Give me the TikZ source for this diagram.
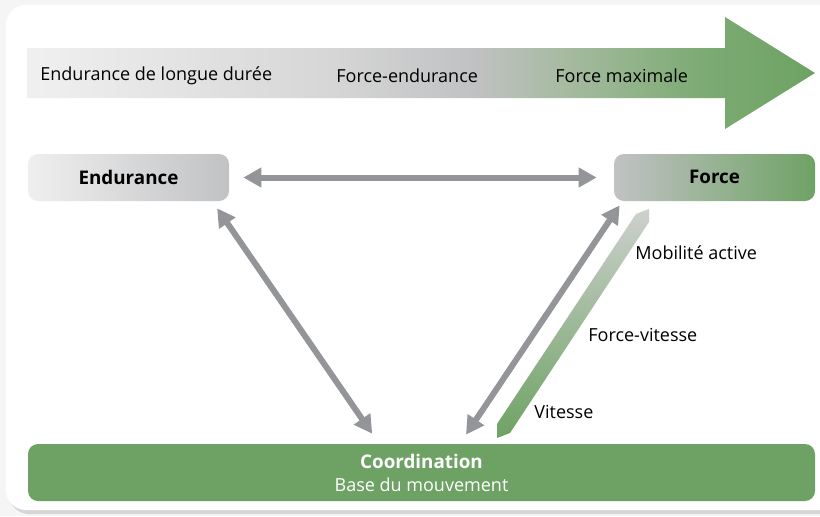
\documentclass[tikz,border=0pt]{standalone}
\usepackage{fontspec}
\setmainfont{Open Sans}
\usetikzlibrary{arrows.meta,calc}

\definecolor{trgreen}{HTML}{6EA264}
\definecolor{trgray}{HTML}{939598}
\definecolor{boxgray}{HTML}{C1C2C4}
\definecolor{lightgray}{HTML}{EFEFEF}
\definecolor{bandgray}{HTML}{CDD0CD}
\definecolor{midgreen}{HTML}{A8BBA2}

% shading of the long arrow on top: light gray -> gray -> green
\pgfdeclarehorizontalshading{topbar}{100bp}{%
  color(0bp)=(lightgray); color(25.8bp)=(lightgray);
  color(44.2bp)=(black!16); color(53.1bp)=(boxgray);
  color(58.8bp)=(midgreen); color(67.7bp)=(trgreen!90!white);
  color(75bp)=(trgreen); color(100bp)=(trgreen)}

\begin{document}
\begin{tikzpicture}[
  x=0.5pt, y=-0.5pt,
  font=\fontsize{9}{10}\selectfont,
  quality/.style={rounded corners=5pt,minimum width=100.5pt,minimum height=23.5pt,
                  inner sep=0pt,text depth=0.5pt,font=\fontsize{9.4}{10}\selectfont\bfseries},
  endubox/.style={quality,left color=lightgray,right color=boxgray},
  forcebox/.style={quality,left color=boxgray,right color=trgreen},
  basebox/.style={rounded corners=5pt,minimum width=393.5pt,minimum height=28.5pt,
                  fill=trgreen,text=white,align=center,inner sep=0pt,
                  font=\fontsize{9}{11.5}\selectfont},
  dblarr/.style={{Triangle[length=9pt,width=9.5pt]}-{Triangle[length=9pt,width=9.5pt]},
                 line width=3pt,trgray},
  tag/.style={anchor=west,inner sep=0pt},
]
\useasboundingbox (0,0) rectangle (820,516);
\clip (0,0) rectangle (820,516);

%% ---- Frame -----------------------------------------------------------------
\fill[black!4] (0,0) rectangle (820,516);
\fill[black!16,rounded corners=10pt] (9,9) rectangle (850,514);
\fill[white,rounded corners=10pt] (6,5) rectangle (850,510);

%% ---- Top arrow -------------------------------------------------------------
\shade[shading=topbar] (27,48) -- (725,48) -- (725,17) -- (815,73)
  -- (725,129) -- (725,98) -- (27,98) -- cycle;
\node[tag] (longue) at (40,76) {Endurance de longue durée};
\node[tag] (fendu) at (336,76) {Force-endurance};
\node[tag] (fmax) at (555,76) {Force maximale};

%% ---- Boxes -----------------------------------------------------------------
\node[endubox] (endu) at (128.5,177.5) {Endurance};
\node[forcebox] (force) at (714.5,177.5) {Force};
\node[basebox] (coord) at (421.5,472.5)
  {\textbf{\fontsize{9.4}{11.5}\selectfont Coordination}\\Base du mouvement};

%% ---- Gray arrows -----------------------------------------------------------
\draw[dblarr,shorten <=7pt,shorten >=8.5pt] (endu.east) -- (force.west);
\draw[dblarr,shorten <=4.2pt,shorten >=6pt]
  ($(endu.south east)+(-17,0)$) -- ($(coord.north)+(-42.5,0)$);
\draw[dblarr,shorten <=2.4pt,shorten >=5.4pt]
  ($(force.south west)+(8.7,0)$) -- ($(coord.north)+(38.5,0)$);

%% ---- Green band ------------------------------------------------------------
\shade[top color=bandgray,bottom color=trgreen]
  (497,424) -- (497,438) -- (510,433) -- (649,222) -- (649,209) -- (636,214) -- cycle;
\node[tag] (mobil) at (635,253) {Mobilité active};
\node[tag] (fvit) at (588,335) {Force-vitesse};
\node[tag] (vit) at (534,412) {Vitesse};

\end{tikzpicture}
\end{document}
